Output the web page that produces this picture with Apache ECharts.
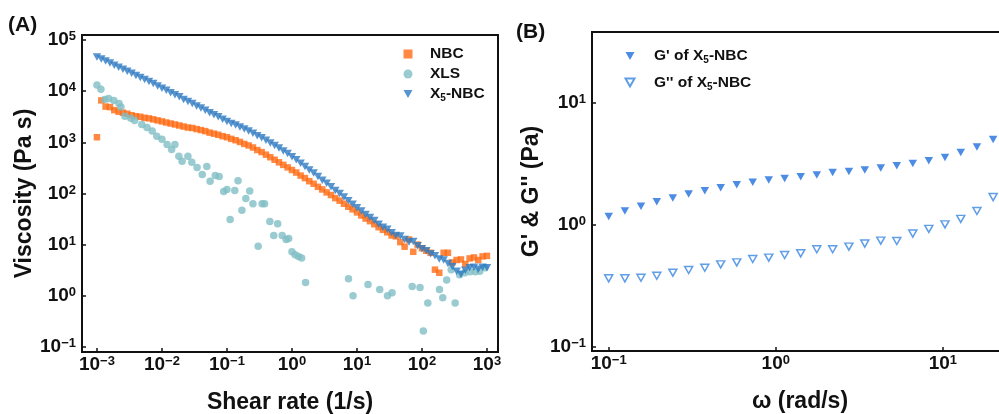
<!DOCTYPE html>
<html><head><meta charset="utf-8">
<script src="https://cdn.jsdelivr.net/npm/echarts@6/dist/echarts.min.js"></script>
<style>html,body{margin:0;padding:0;background:#fff}#c{width:999px;height:414px}</style>
</head><body><div id="c"></div>
<script>
// ---------- Panel A data ----------
const shearRate = [
  0.001, 0.001166, 0.001359, 0.001585, 0.001848, 0.002154, 0.002512, 0.002929, 0.003415, 0.003981, 0.004642, 0.005412, 0.00631, 0.007356, 0.008577,
  0.01, 0.01166, 0.01359, 0.01585, 0.01848, 0.02154, 0.02512, 0.02929, 0.03415, 0.03981, 0.04642, 0.05412, 0.0631, 0.07356, 0.08577,
  0.1, 0.1166, 0.1359, 0.1585, 0.1848, 0.2154, 0.2512, 0.2929, 0.3415, 0.3981, 0.4642, 0.5412, 0.631, 0.7356, 0.8577,
  1, 1.166, 1.359, 1.585, 1.848, 2.154, 2.512, 2.929, 3.415, 3.981, 4.642, 5.412, 6.31, 7.356, 8.577,
  10, 11.66, 13.59, 15.85, 18.48, 21.54, 25.12, 29.29, 34.15, 39.81, 46.42, 54.12, 63.1, 73.56, 85.77,
  100, 116.6, 135.9, 158.5, 184.8, 215.4, 251.2, 292.9, 341.5, 398.1, 464.2, 541.2, 631, 735.6, 857.7,
  1000
];
const nbcVisc = [
  1260, 6610, 5010, 4900, 4270, 3980, 3800, 3630, 3390, 3240, 3160, 3020, 2950, 2820, 2690,
  2570, 2450, 2340, 2240, 2140, 2040, 1950, 1910, 1820, 1740, 1660, 1550, 1480, 1410, 1320,
  1260, 1170, 1100, 1020, 933, 871, 794, 708, 646, 575, 513, 457, 407, 363, 324,
  288, 257, 224, 200, 174, 155, 135, 120, 105, 93.3, 81.3, 72.4, 63.1, 55.0, 49.0,
  42.7, 37.2, 32.4, 28.8, 25.1, 21.9, 19.5, 17.4, 15.1, 14.5, 11.2, 9.12, 12.6, 7.24, 10.0,
  8.51, 7.59, 6.92, 3.24, 2.82, 6.92, 6.92, 4.47, 5.01, 5.13, 4.17, 5.37, 5.62, 5.01, 5.89,
  6.03
];
const x5Visc = [
  46800, 42700, 38900, 35500, 32400, 29500, 26900, 24500, 22400, 20400, 18600, 17000, 15500, 14100, 12600,
  11500, 10500, 9330, 8510, 7760, 6920, 6310, 5750, 5130, 4680, 4270, 3800, 3470, 3160, 2820,
  2570, 2340, 2190, 2000, 1820, 1660, 1510, 1350, 1230, 1100, 977, 871, 776, 676, 603,
  525, 457, 389, 339, 288, 251, 214, 182, 158, 135, 115, 100, 85.1, 72.4, 61.7,
  52.5, 45.7, 38.9, 33.9, 29.5, 25.1, 21.9, 20.0, 17.0, 15.1, 14.8, 12.6, 11.2, 11.5, 9.55,
  8.32, 7.59, 6.61, 6.03, 5.25, 5.01, 4.27, 3.72, 3.02, 2.63, 3.16, 3.55, 3.63, 3.31, 3.63,
  3.55
];
const xlsRate = [
  0.001, 0.00115, 0.00132, 0.00151, 0.00182, 0.00219, 0.00234, 0.00269, 0.00331, 0.0038, 0.0049, 0.00589, 0.00708, 0.00832,
  0.01, 0.012, 0.0141, 0.0158, 0.0182, 0.0204, 0.0251, 0.0288, 0.0347, 0.0417, 0.049, 0.055, 0.0661, 0.0759, 0.0891,
  0.1, 0.112, 0.132, 0.148, 0.17, 0.195, 0.224, 0.251, 0.302, 0.347, 0.38, 0.457, 0.525, 0.603, 0.708, 0.813, 0.891,
  1.0, 1.12, 1.26, 1.41, 1.62, 7.41, 8.71, 14.8, 22.4, 29.5, 34.7, 70.8, 93.3,
  105, 123, 186, 209, 240, 282, 324, 380, 457, 550, 661, 776, 933
];
const xlsVisc = [
  13200, 11000, 6900, 7240, 6610, 5750, 4900, 3240, 2950, 2690, 2240, 1950, 1660, 1320,
  1150, 912, 724, 912, 537, 427, 537, 407, 324, 234, 339, 174, 224, 214, 110,
  120, 30.9, 115, 178, 46.8, 79.4, 112, 63.1, 9.33, 63.1, 63.1, 28.2, 15.1, 25.7, 15.1, 12.6, 13.2,
  7.24, 6.31, 5.89, 5.5, 1.82, 2.14, 1.0, 1.66, 1.32, 1.0, 1.15, 1.51, 1.45,
  0.204, 0.724, 1.32, 0.912, 2.04, 3.24, 0.724, 2.57, 2.82, 2.95, 2.95, 3.02, 3.55
];
const seriesNamesA = ['NBC', 'XLS', 'X5-NBC'];

// ---------- Panel B data ----------
const omega = [0.1, 0.125, 0.156, 0.194, 0.242, 0.301, 0.376, 0.468, 0.584, 0.728, 0.908, 1.13, 1.41, 1.76, 2.19, 2.74, 3.41, 4.25, 5.30, 6.61, 8.24, 10.3, 12.8, 16.0, 20.0];
const gPrime = [1.17, 1.30, 1.42, 1.55, 1.66, 1.79, 1.90, 2.01, 2.13, 2.24, 2.33, 2.40, 2.48, 2.56, 2.68, 2.74, 2.81, 2.92, 3.05, 3.19, 3.36, 3.57, 3.91, 4.35, 5.00];
const gDouble = [0.365, 0.365, 0.369, 0.383, 0.406, 0.427, 0.446, 0.475, 0.493, 0.526, 0.539, 0.567, 0.585, 0.631, 0.631, 0.664, 0.703, 0.743, 0.738, 0.849, 0.927, 1.01, 1.12, 1.30, 1.69];
const seriesNamesB = ["G' of X5-NBC", "G'' of X5-NBC"];

const FONT = "'Liberation Sans', Arial, sans-serif";
const INK = '#111';
const DOWN_TRI = 'path://M0,0L10,0L5,9Z';

function powLabel(v) {
  const l = Math.log10(v), e = Math.round(l);
  if (Math.abs(l - e) > 1e-6) return '';
  return '{b|10}{s|' + (e < 0 ? '\u2212' + (-e) : String(e)) + '}';
}
const tickRich = {
  b: { fontSize: 19, fontWeight: 'bold', fontFamily: FONT, color: INK, lineHeight: 20 },
  s: { fontSize: 13, fontWeight: 'bold', fontFamily: FONT, color: INK, lineHeight: 12, verticalAlign: 'top' }
};
function logAxis(gridIndex, min, max, isY, name, nameGap) {
  return {
    type: 'log', logBase: 10, gridIndex, min, max,
    name, nameLocation: 'middle', nameGap, nameRotate: isY ? 90 : 0,
    nameTextStyle: { fontSize: 23, fontWeight: 'bold', fontFamily: FONT, color: INK },
    axisLine: { show: true, onZero: false, lineStyle: { color: INK, width: 2 } },
    axisTick: { show: true, inside: true, length: 4, lineStyle: { color: INK, width: 1.5 } },
    minorTick: { show: false }, splitLine: { show: false }, minorSplitLine: { show: false },
    axisLabel: { formatter: powLabel, rich: tickRich, margin: isY ? 6 : 3 }
  };
}
function legendFmt(n) {
  const parts = n.split('X5');
  return '{g|}' + parts.map(p => p ? '{n|' + p + '}' : '').join('{n|X}{sub|5}');
}
function legendRich(gap) {
  return {
    g: { width: gap, lineHeight: 18 },
    n: { fontSize: 15.5, fontWeight: 'bold', fontFamily: FONT, color: INK, lineHeight: 15 },
    sub: { fontSize: 10, fontWeight: 'bold', fontFamily: FONT, color: INK, lineHeight: 19, verticalAlign: 'bottom' }
  };
}

const pair = (xs, ys) => xs.map((x, i) => [x, ys[i]]);

const option = {
  animation: false,
  backgroundColor: '#fff',
  title: [
    { text: '(A)', left: 8, top: 15, padding: 0, textStyle: { fontSize: 21, fontWeight: 'bold', fontFamily: FONT, color: INK } },
    { text: '(B)', left: 516, top: 22, padding: 0, textStyle: { fontSize: 21, fontWeight: 'bold', fontFamily: FONT, color: INK } }
  ],
  grid: [
    { left: 82, top: 35, width: 416, height: 317, show: true, borderColor: INK, borderWidth: 2, backgroundColor: 'transparent', containLabel: false, outerBoundsMode: 'none' },
    { left: 592, top: 32, width: 416, height: 319, show: true, borderColor: INK, borderWidth: 2, backgroundColor: 'transparent', containLabel: false, outerBoundsMode: 'none' }
  ],
  xAxis: [
    logAxis(0, Math.pow(10, -3.23), Math.pow(10, 3.17), false, 'Shear rate (1/s)', 39),
    logAxis(1, Math.pow(10, -1.1), Math.pow(10, 1.39), false, '\u03c9 (rad/s)', 39)
  ],
  yAxis: [
    logAxis(0, Math.pow(10, -1.1), Math.pow(10, 5.1), true, 'Viscosity (Pa s)', 46),
    logAxis(1, Math.pow(10, -1.033), Math.pow(10, 1.58), true, "G' & G'' (Pa)", 49)
  ],
  legend: [
    {
      data: [
        { name: seriesNamesA[0] },
        { name: seriesNamesA[1] },
        { name: seriesNamesA[2], icon: DOWN_TRI }
      ],
      orient: 'vertical', left: 403.5, top: 46, padding: 0,
      itemWidth: 9, itemHeight: 9, itemGap: 4,
      formatter: legendFmt, textStyle: { rich: legendRich(12.5) }
    },
    {
      data: [
        { name: seriesNamesB[0], icon: DOWN_TRI },
        { name: seriesNamesB[1], icon: DOWN_TRI }
      ],
      orient: 'vertical', left: 624.5, top: 48, padding: 0,
      itemWidth: 9, itemHeight: 9, itemGap: 9,
      formatter: legendFmt, textStyle: { rich: legendRich(14.5) }
    }
  ],
  series: [
    { type: 'scatter', name: seriesNamesA[0], xAxisIndex: 0, yAxisIndex: 0, data: pair(shearRate, nbcVisc),
      symbol: 'rect', symbolSize: 6.5, itemStyle: { color: '#ff6a13' } },
    { type: 'scatter', name: seriesNamesA[1], xAxisIndex: 0, yAxisIndex: 0, data: pair(xlsRate, xlsVisc),
      symbol: 'circle', symbolSize: 7.5, itemStyle: { color: '#7fbec4' } },
    { type: 'scatter', name: seriesNamesA[2], xAxisIndex: 0, yAxisIndex: 0, data: pair(shearRate, x5Visc),
      symbol: 'triangle', symbolRotate: 180, symbolSize: [8.5, 7.5], itemStyle: { color: '#2e7bc2' } },
    { type: 'scatter', name: seriesNamesB[0], xAxisIndex: 1, yAxisIndex: 1, data: pair(omega, gPrime),
      symbol: 'triangle', symbolRotate: 180, symbolSize: [8.5, 7.5], itemStyle: { color: '#1f6fdc' } },
    { type: 'scatter', name: seriesNamesB[1], xAxisIndex: 1, yAxisIndex: 1, data: pair(omega, gDouble),
      symbol: 'triangle', symbolRotate: 180, symbolSize: [8, 7], itemStyle: { color: '#ffffff', borderColor: '#3a86e2', borderWidth: 1.5 } }
  ]
};
const chart = echarts.init(document.getElementById('c'), null, { renderer: 'canvas' });
chart.setOption(option);
</script>
</body></html>
